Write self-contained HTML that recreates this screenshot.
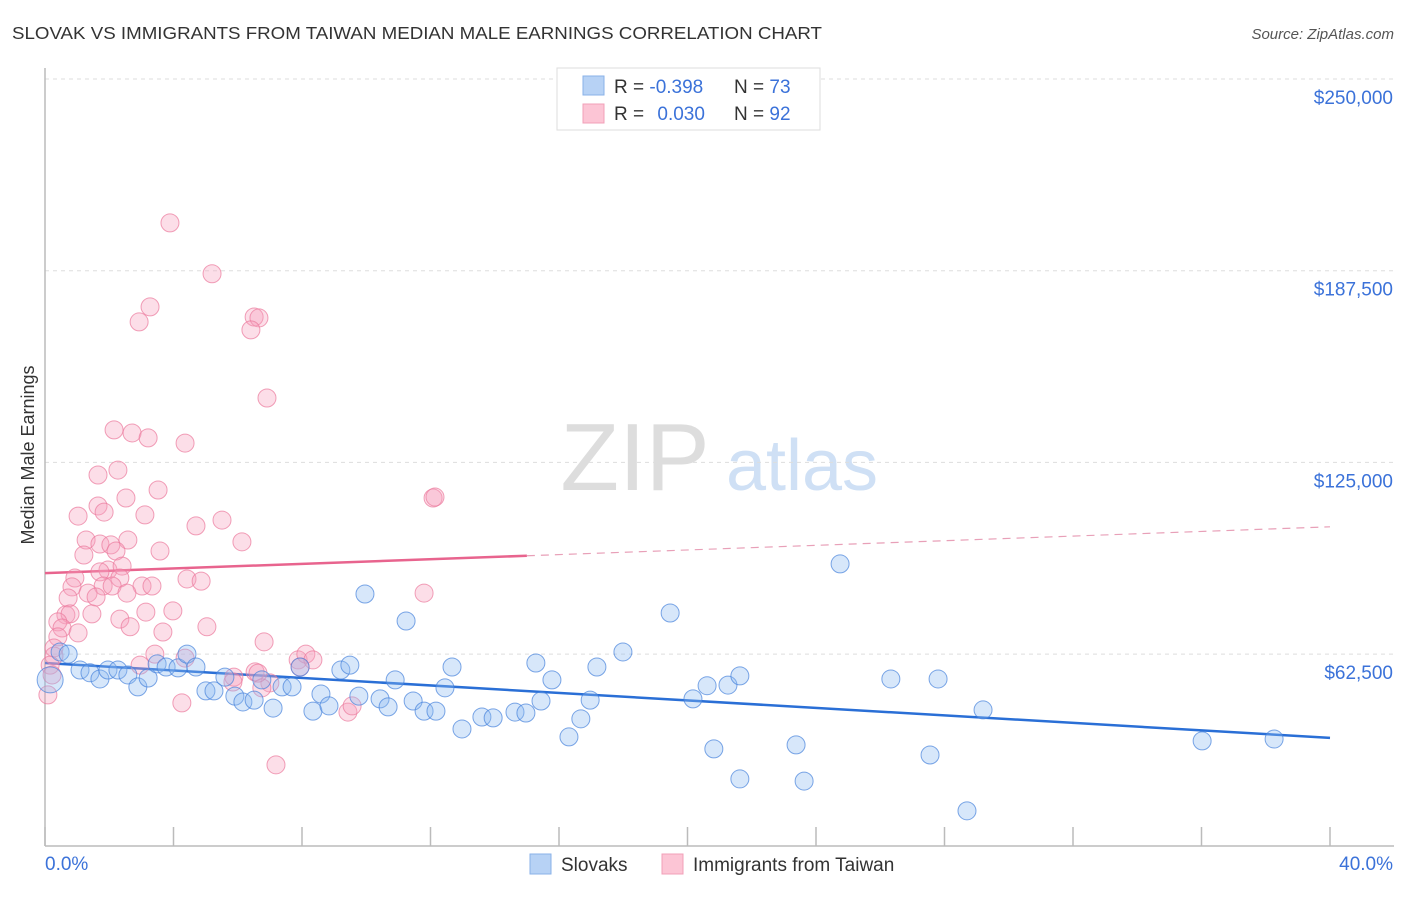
<!DOCTYPE html>
<html><head><meta charset="utf-8"><style>
body{margin:0;background:#fff;font-family:"Liberation Sans",sans-serif;}
svg text{font-family:"Liberation Sans",sans-serif;}
</style></head><body>
<svg id="chart" width="1406" height="892" xmlns="http://www.w3.org/2000/svg">
<text x="12" y="39" font-size="17.5" fill="#333" textLength="810" lengthAdjust="spacingAndGlyphs">SLOVAK VS IMMIGRANTS FROM TAIWAN MEDIAN MALE EARNINGS CORRELATION CHART</text>
<text x="1394" y="39" font-size="15" fill="#555" font-style="italic" text-anchor="end">Source: ZipAtlas.com</text>
<text x="0" y="0" font-size="18" fill="#333" text-anchor="middle" transform="translate(34,455) rotate(-90)">Median Male Earnings</text>
<g>
<text x="635" y="490" font-size="96" fill="#ddd" text-anchor="middle" font-family="Liberation Serif">ZIP</text>
<text x="802" y="490" font-size="72" fill="#cfe0f5" text-anchor="middle">atlas</text>
</g>
<g id="grid"></g><g id="axes"></g><g id="trends"></g><g id="pts"></g>
<g>
<rect x="557" y="68" width="263" height="62" fill="#fff" stroke="#ddd"/>
<rect x="583" y="76" width="21" height="19" fill="#b7d2f5" stroke="#8ab2e8"/>
<rect x="583" y="104" width="21" height="19" fill="#fcc5d5" stroke="#f2a0b8"/>
<text x="614" y="93" font-size="19" fill="#333">R = <tspan fill="#3b72d9">-0.398</tspan></text>
<text x="734" y="93" font-size="19" fill="#333">N = <tspan fill="#3b72d9">73</tspan></text>
<text x="614" y="120" font-size="19" fill="#333">R = <tspan fill="#3b72d9" dx="8">0.030</tspan></text>
<text x="734" y="120" font-size="19" fill="#333">N = <tspan fill="#3b72d9">92</tspan></text>
</g>
<g>
<rect x="530" y="854" width="21" height="20" fill="#b7d2f5" stroke="#8ab2e8"/>
<text x="561" y="871" font-size="19" fill="#333">Slovaks</text>
<rect x="662" y="854" width="21" height="20" fill="#fcc5d5" stroke="#f2a0b8"/>
<text x="693" y="871" font-size="19" fill="#333">Immigrants from Taiwan</text>
</g>
</svg>
<script>
const blueX=[0.16,0.47,0.72,1.09,1.40,1.71,1.96,2.27,2.58,2.89,3.21,3.49,3.77,4.14,4.42,4.70,5.01,5.26,5.60,5.91,6.16,6.51,6.75,7.10,7.38,7.69,7.94,8.34,8.59,8.84,9.21,9.49,9.77,9.96,10.43,10.68,10.90,11.24,11.46,11.80,12.17,12.45,12.67,12.98,13.60,13.95,14.63,14.97,15.28,15.44,15.78,16.31,16.68,16.97,17.18,17.99,19.46,20.17,20.61,20.82,21.26,21.63,21.63,23.38,23.63,24.75,26.33,27.55,27.80,28.70,29.20,36.02,38.26];
const blueY=[54.1,63.2,62.5,57.3,56.4,54.4,57.3,57.3,55.7,51.8,54.7,59.3,58.3,58.0,62.5,58.3,50.5,50.5,55.0,48.8,46.9,47.5,54.1,44.9,51.8,51.8,58.3,43.9,49.5,45.6,57.3,58.9,48.8,82.1,47.9,45.3,54.1,73.3,47.2,43.9,43.9,51.5,58.3,38.1,42.0,41.7,43.6,43.3,59.6,47.2,54.1,35.5,41.4,47.5,58.3,63.2,75.9,47.9,52.2,31.6,52.4,55.4,21.8,32.9,21.1,91.9,54.4,29.6,54.4,11.4,44.3,34.2,34.8];
const pinkX=[3.89,5.20,3.27,2.93,6.51,6.66,6.41,6.91,2.15,2.71,3.21,4.36,2.27,1.65,2.52,3.52,12.08,12.14,1.65,1.03,3.11,1.84,4.70,5.51,1.28,1.71,2.05,2.58,3.58,6.13,1.21,2.21,1.96,2.40,0.93,1.71,2.33,4.42,4.86,0.84,1.81,2.09,3.02,3.33,1.34,2.55,11.80,0.72,1.59,3.14,2.33,0.65,0.78,1.46,0.40,0.53,1.03,2.65,3.67,3.98,5.04,6.82,0.40,0.28,0.28,3.42,0.16,0.22,0.09,4.36,2.96,5.88,6.54,7.00,7.88,8.12,8.34,7.94,4.26,9.43,9.56,6.75,7.19,6.63,5.85];
const pinkY=[203.1,186.5,175.7,170.8,172.4,172.1,168.2,146.0,135.6,134.6,133.0,131.3,122.5,120.9,113.4,116.0,113.4,113.7,110.8,107.5,107.9,108.8,104.3,106.2,99.7,98.4,98.1,99.7,96.1,99.1,94.8,96.1,89.9,91.2,87.3,89.3,87.3,87.0,86.3,84.4,84.7,84.7,84.7,84.7,82.4,82.4,82.4,80.8,81.1,76.2,73.9,75.3,75.6,75.6,73.0,71.0,69.4,71.4,69.7,76.6,71.4,66.5,68.1,64.5,61.9,62.5,58.9,55.7,49.2,61.2,58.9,55.0,56.7,53.1,60.6,62.5,60.6,58.3,46.6,43.6,45.6,51.5,26.4,56.3,53.4];
const yTicks=[62.5,125,187.5,250];
const yTickLabels=["$62,500","$125,000","$187,500","$250,000"];
const xTicks=[0,4,8,12,16,20,24,28,32,36,40];
const blueTrend=[59.6,35.2];
const pinkTrend=[88.9,104.0];
const pinkSolidEnd=15;

const NS="http://www.w3.org/2000/svg";
const X=v=>45+v/40*1285;
const Y=v=>79+(250-v)/62.5*191.7;
function mk(tag,attrs,parent){const e=document.createElementNS(NS,tag);for(const k in attrs)e.setAttribute(k,attrs[k]);document.getElementById(parent).appendChild(e);return e;}

yTicks.forEach((t,i)=>{
 const g=mk('line',{x1:45,x2:1394,y1:Y(t),y2:Y(t),stroke:'#ddd','stroke-dasharray':'4,4'},'grid');
 
 
 const tx=mk('text',{x:1393,y:Y(t)+25,'font-size':19,fill:'#3b72d9','text-anchor':'end'},'axes');
 tx.textContent=yTickLabels[i];
 
 
});
const ya=mk('line',{x1:45,x2:45,y1:68,y2:846,stroke:'#bbb','stroke-width':1.5},'axes');


const xa=mk('line',{x1:45,x2:1394,y1:846,y2:846,stroke:'#bbb','stroke-width':1.5},'axes');


xTicks.forEach(t=>{
 const l=mk('line',{x1:X(t),x2:X(t),y1:827,y2:846,stroke:'#bbb','stroke-width':1.5},'axes');
 
 
});
const xl0=mk('text',{x:45,y:870,'font-size':19,fill:'#3b72d9'},'axes');xl0.textContent='0.0%';


const xl1=mk('text',{x:1393,y:870,'font-size':19,fill:'#3b72d9','text-anchor':'end'},'axes');xl1.textContent='40.0%';



pinkX.forEach((x,i)=>{
 const c=mk('circle',{cx:X(x),cy:Y(pinkY[i]),r:9,fill:'rgba(247,160,188,0.35)',stroke:'rgba(235,120,155,0.7)','stroke-width':1},'pts');
 
 
});
blueX.forEach((x,i)=>{
 const c=mk('circle',{cx:X(x),cy:Y(blueY[i]),r:i===0?13:9,fill:'rgba(140,185,240,0.35)',stroke:'rgba(70,130,220,0.7)','stroke-width':1},'pts');
 
 
});
const bt=mk('line',{x1:X(0),y1:Y(blueTrend[0]),x2:X(40),y2:Y(blueTrend[1]),stroke:'#2a6fd6','stroke-width':2.5},'trends');


const pm=pinkTrend[0]+(pinkTrend[1]-pinkTrend[0])*pinkSolidEnd/40;
const pt=mk('line',{x1:X(0),y1:Y(pinkTrend[0]),x2:X(pinkSolidEnd),y2:Y(pm),stroke:'#e8648e','stroke-width':2.5},'trends');


const pd=mk('line',{x1:X(pinkSolidEnd),y1:Y(pm),x2:X(40),y2:Y(pinkTrend[1]),stroke:'#e8a0b8','stroke-width':1.2,'stroke-dasharray':'8,6'},'trends');


</script>
</body></html>
